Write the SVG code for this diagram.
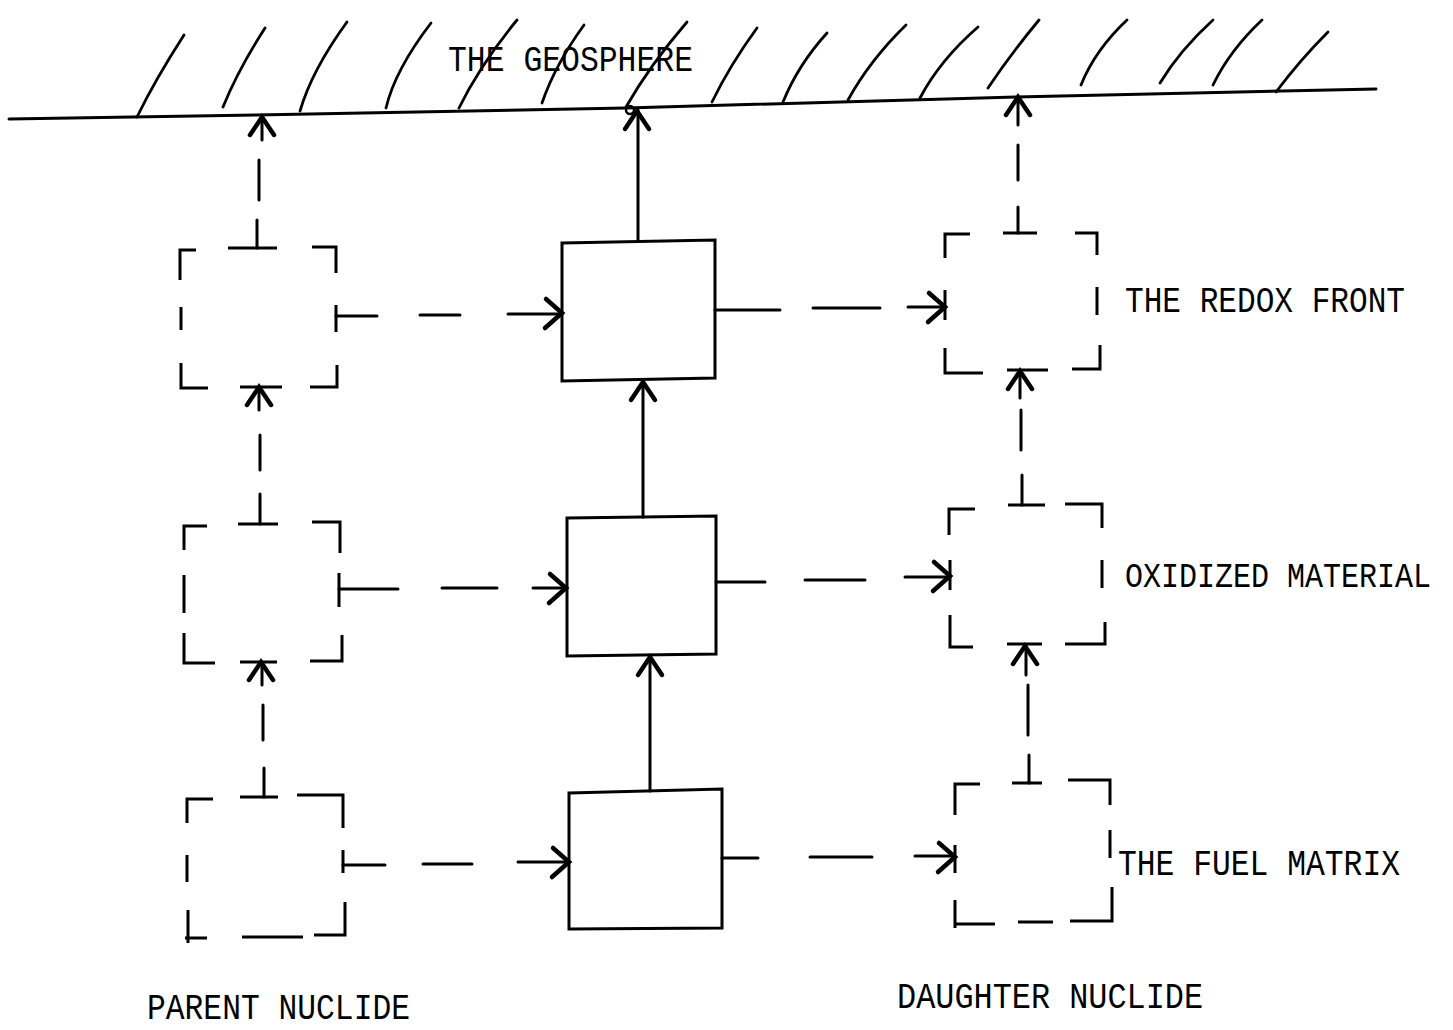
<svg xmlns="http://www.w3.org/2000/svg" width="1453" height="1030" viewBox="0 0 1453 1030">
<style>
  .ln{fill:none;stroke:#000;stroke-width:3;stroke-linecap:round;stroke-linejoin:round}
  .ht{fill:none;stroke:#000;stroke-width:2.8;stroke-linecap:round}
  .bx{fill:none;stroke:#000;stroke-width:3;stroke-linejoin:miter}
  .ah{fill:none;stroke:#000;stroke-width:4.5;stroke-linecap:round;stroke-linejoin:miter}
  .tx{font-family:"Liberation Mono","DejaVu Sans Mono",monospace;font-size:36px;fill:#000}
  .txs{font-family:"Liberation Mono","DejaVu Sans Mono",monospace;font-size:31px;fill:#000}
</style>
<defs>
  <path id="up" class="ah" d="M-12,18 L0,0 L12,18"/>
  <path id="rt" class="ah" d="M-16,-14 L0,0 L-17,15"/>
</defs>
<rect width="1453" height="1030" fill="#fff"/>

<g id="geosphere">
  <polyline class="ln" points="9,119 256,115 626,108 1016,97 1376,89"/>
  <g>
    <path class="ht" d="M137,117 Q155,80 184,35"/>
    <path class="ht" d="M223,107 Q238,70 265,28"/>
    <path class="ht" d="M300,111 Q312,70 347,22"/>
    <path class="ht" d="M386,108 Q395,70 431,23"/>
    <path class="ht" d="M459,108 Q480,65 517,20"/>
    <path class="ht" d="M542,103 Q555,65 584,25"/>
    <path class="ht" d="M626,107 Q650,65 687,22"/>
    <path class="ht" d="M712,102 Q730,65 757,28"/>
    <path class="ht" d="M783,102 Q798,65 827,33"/>
    <path class="ht" d="M848,100 Q870,60 906,25"/>
    <path class="ht" d="M920,98 Q940,60 978,27"/>
    <path class="ht" d="M988,88 Q1010,55 1039,20"/>
    <path class="ht" d="M1081,85 Q1095,50 1127,20"/>
    <path class="ht" d="M1160,83 Q1180,50 1213,20"/>
    <path class="ht" d="M1213,85 Q1230,50 1262,20"/>
    <path class="ht" d="M1276,92 Q1300,60 1328,32"/>
  </g>
  <text class="tx" x="448" y="71" textLength="245" lengthAdjust="spacingAndGlyphs">THE GEOSPHERE</text>
</g>

<g id="parent-redox">
  <path class="bx" d="M180,280 V250 H196 M228,248 H277 M312,247 H336 V273 M181,307 V330 M336,305 V332 M181,363 V388 H208 M240,387 H282 M310,387 H337 V365"/>
</g>
<g id="parent-oxidized">
  <path class="bx" d="M184,550 V526 H207 M238,524 H278 M312,522 H340 V553 M184,575 V613 M339,573 V607 M184,633 V663 H215 M240,662 H277 M310,661 H342 V635"/>
</g>
<g id="parent-fuel">
  <path class="bx" d="M187,823 V799 H213 M240,797 H278 M297,795 H343 V828 M187,855 V882 M343,850 V873 M188,910 V943 M185,938 H207 M242,937 H303 M314,935 H345 V902"/>
</g>

<g id="mid-redox">
  <polygon class="bx" points="562,243 715,240 715,378 562,381"/>
</g>
<g id="mid-oxidized">
  <polygon class="bx" points="567,518 716,516 716,654 567,656"/>
</g>
<g id="mid-fuel">
  <polygon class="bx" points="569,793 722,789 722,928 569,929"/>
</g>

<g id="daughter-redox">
  <path class="bx" d="M945,258 V234 H970 M1003,233 H1037 M1075,233 H1097 V255 M945,290 V320 M1097,287 V315 M945,348 V373 H983 M1007,370 H1048 M1072,369 H1100 V345"/>
  <text class="tx" x="1125" y="312" textLength="280" lengthAdjust="spacingAndGlyphs">THE REDOX FRONT</text>
</g>
<g id="daughter-oxidized">
  <path class="bx" d="M949,535 V509 H975 M1008,505 H1045 M1065,504 H1102 V528 M950,560 V590 M1102,560 V588 M950,615 V647 H973 M1007,644 H1042 M1065,644 H1105 V622"/>
  <text class="txs" transform="translate(1125,587) scale(1,1.16)" x="0" y="0" textLength="306" lengthAdjust="spacingAndGlyphs">OXIDIZED MATERIAL</text>
</g>
<g id="daughter-fuel">
  <path class="bx" d="M955,815 V784 H980 M1012,783 H1042 M1068,780 H1110 V805 M955,845 V873 M1110,830 V858 M955,900 V928 M955,924 H995 M1018,922 H1053 M1070,921 H1112 V887"/>
  <text class="tx" x="1118" y="875" textLength="282" lengthAdjust="spacingAndGlyphs">THE FUEL MATRIX</text>
</g>

<g id="labels">
  <text class="tx" x="147" y="1019" textLength="263" lengthAdjust="spacingAndGlyphs">PARENT NUCLIDE</text>
  <text class="tx" x="897" y="1008" textLength="306" lengthAdjust="spacingAndGlyphs">DAUGHTER NUCLIDE</text>
</g>

<g id="connectors">
  <path class="ln" d="M257,248 V220 M259,200 V160 M262,140 V117"/>
  <use href="#up" x="262" y="117"/>
  <path class="ln" d="M260,524 V494 M260,470 V435 M259,410 V387"/>
  <use href="#up" x="259" y="387"/>
  <path class="ln" d="M264,797 V768 M263,740 V705 M262,685 V662"/>
  <use href="#up" x="261" y="662"/>
  <path class="ln" d="M336,316 H377 M420,315 H460 M508,314 H562"/>
  <use href="#rt" x="562" y="313"/>
  <path class="ln" d="M339,589 H398 M442,588 H497 M533,588 H566"/>
  <use href="#rt" x="566" y="588"/>
  <path class="ln" d="M343,865 H385 M423,864 H472 M518,862 H569"/>
  <use href="#rt" x="569" y="862"/>
  <path class="ln" d="M638,241 V110"/>
  <use href="#up" x="637" y="111"/>
  <circle cx="630" cy="110" r="4" fill="none" stroke="#000" stroke-width="2.5"/>
  <path class="ln" d="M643,517 V382"/>
  <use href="#up" x="643" y="382"/>
  <path class="ln" d="M650,791 V657"/>
  <use href="#up" x="650" y="657"/>
  <path class="ln" d="M715,310 H780 M813,308 H880 M908,307 H945"/>
  <use href="#rt" x="945" y="307"/>
  <path class="ln" d="M716,582 H765 M805,580 H865 M905,577 H950"/>
  <use href="#rt" x="950" y="576"/>
  <path class="ln" d="M722,858 H758 M810,857 H872 M915,856 H955"/>
  <use href="#rt" x="955" y="857"/>
  <path class="ln" d="M1018,233 V207 M1018,180 V145 M1018,125 V98"/>
  <use href="#up" x="1018" y="97"/>
  <path class="ln" d="M1022,505 V475 M1021,450 V410 M1020,398 V371"/>
  <use href="#up" x="1020" y="371"/>
  <path class="ln" d="M1029,783 V755 M1028,735 V685 M1026,675 V646"/>
  <use href="#up" x="1025" y="646"/>
</g>
</svg>
